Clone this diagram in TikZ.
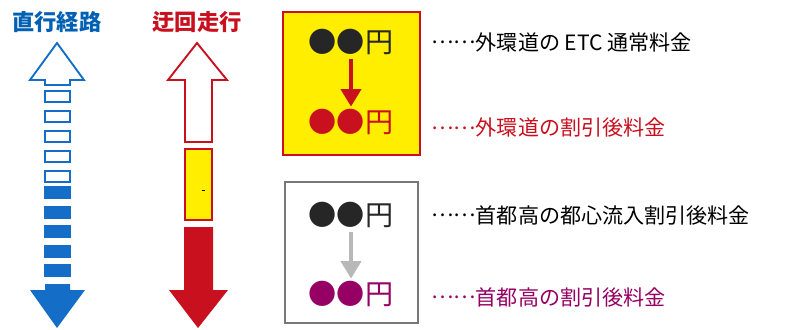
\documentclass[tikz,border=0pt]{standalone}
\usepackage{fontspec}
\usepackage{xcolor}
\usepackage{tikz}
\usetikzlibrary{positioning,arrows.meta}
\newfontfamily\jp{Noto Sans CJK JP}
\definecolor{RouteBlue}{RGB}{0,96,180}
\definecolor{DashBlue}{RGB}{20,110,200}
\definecolor{RouteRed}{RGB}{200,16,30}
\definecolor{BoxYellow}{RGB}{255,238,0}
\definecolor{FeePurple}{RGB}{150,0,100}
\definecolor{FrameGray}{RGB}{120,120,120}
\newcommand{\feedots}{\raisebox{0.3em}{……}}
\tikzset{
    title/.style={font=\jp\bfseries\fontsize{19}{22}\selectfont},
    yen/.style={font=\jp\fontsize{24}{28}\selectfont, inner sep=0pt},
    feelabel/.style={font=\jp\fontsize{18}{22}\selectfont, anchor=west, inner sep=0pt},
    feearrow/.style={line width=3.6pt, -{Triangle[length=15pt, width=17pt]}, shorten <=3pt, shorten >=2pt}
}
\begin{document}
\begin{tikzpicture}[x=0.03cm, y=-0.03cm, line join=miter]
        \useasboundingbox (0,0) rectangle (799,329);
        % --- TIÊU ĐỀ ---
        \node[title, text=RouteBlue] (direct) at (57,22) {直行経路};
        \node[title, text=RouteRed] (detour) at (197,22) {迂回走行};

        % --- MŨI TÊN XANH ---
        \draw[DashBlue, line width=1.6pt, fill=white]
            (57,43) -- (84,80) -- (70,80) -- (70,85) -- (45,85) -- (45,80) -- (30,80) -- cycle;
        \foreach \i in {0,...,4}
            \draw[DashBlue, line width=1.6pt, fill=white] (45,{91+20*\i}) rectangle (70,{102+20*\i});
        \foreach \i in {0,...,4}
            \fill[DashBlue] (44,{186+19.5*\i}) rectangle (71,{199+19.5*\i});
        \fill[DashBlue]
            (45,284) -- (70,284) -- (70,290) -- (85,290) -- (57,328) -- (30,290) -- (45,290) -- cycle;

        % --- MŨI TÊN ĐỎ ---
        \draw[RouteRed, line width=1.6pt, fill=white]
            (197,43) -- (227,80) -- (212,80) -- (212,142) -- (185,142) -- (185,80) -- (168,80) -- cycle;
        \draw[RouteRed, line width=1.6pt, fill=BoxYellow] (185,149) rectangle (212,220);
        \draw[black, line width=0.8pt] (202,190) -- (205,190);
        \fill[RouteRed]
            (184,227) -- (213,227) -- (213,290) -- (228,290) -- (198,328) -- (169,290) -- (184,290) -- cycle;

        % --- HỘP VÀNG: NGOẠI VÀNH ---
        \draw[RouteRed, line width=1.6pt, fill=BoxYellow] (283,12) rectangle (420,155);
        \node[yen, text=black!85] (outerfee) at (351,42) {●●円};
        \node[yen, text=RouteRed] (outerdisc) at (351,122) {●●円};
        \draw[feearrow, RouteRed] (outerfee) -- (outerdisc);

        % --- HỘP XÁM: THỦ ĐÔ ---
        \draw[FrameGray, line width=1pt, fill=white] (285,182) rectangle (418,323);
        \node[yen, text=black!85] (shutofee) at (351,215) {●●円};
        \node[yen, text=FeePurple] (shutodisc) at (351,294) {●●円};
        \draw[feearrow, black!28] (shutofee) -- (shutodisc);

        % --- CHÚ THÍCH ---
        \node[feelabel, text=black] (lbla) at (431,42) {\feedots 外環道の ETC 通常料金};
        \node[feelabel, text=RouteRed] (lblb) at (431,128) {\feedots 外環道の割引後料金};
        \node[feelabel, text=black] (lblc) at (431,215) {\feedots 首都高の都心流入割引後料金};
        \node[feelabel, text=FeePurple] (lbld) at (431,297) {\feedots 首都高の割引後料金};
    \end{tikzpicture}
\end{document}
